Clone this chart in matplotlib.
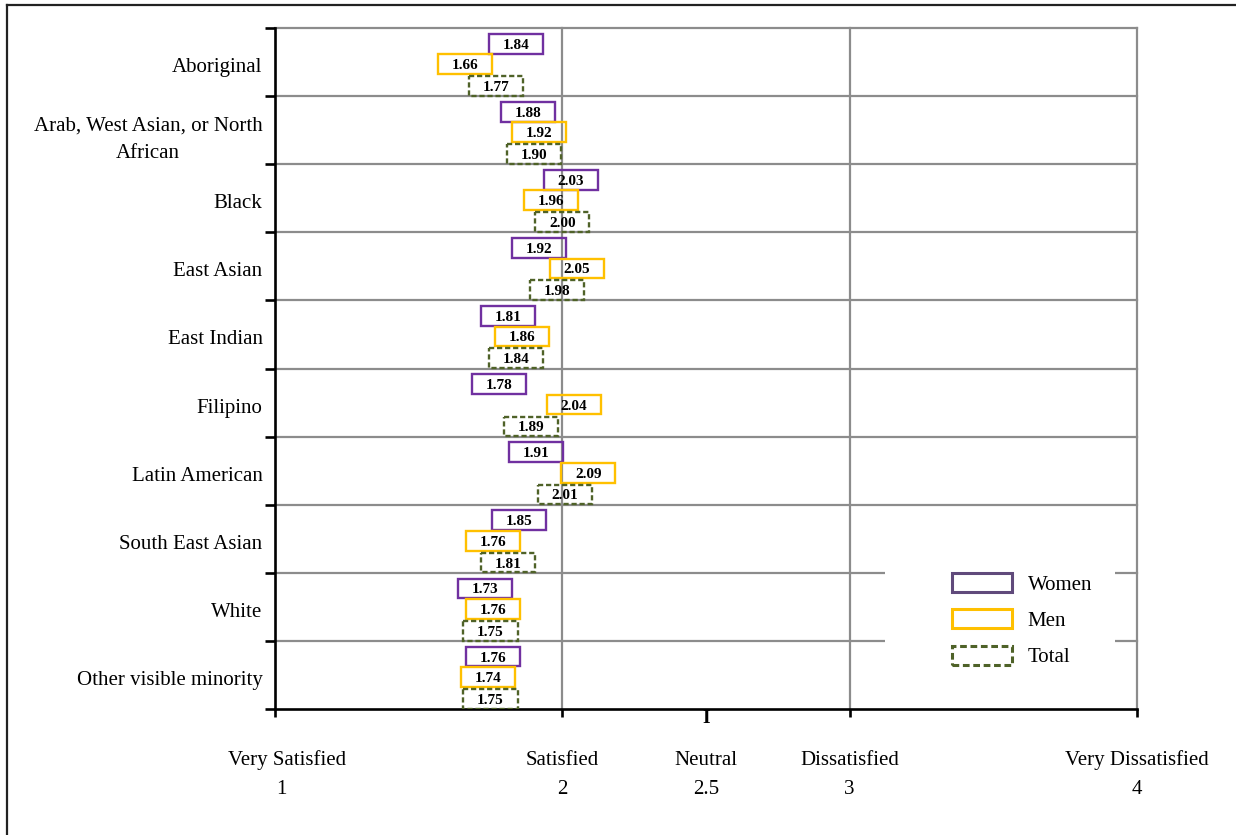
import matplotlib
matplotlib.use("Agg")
import matplotlib.pyplot as plt
import matplotlib.transforms as mtransforms
from matplotlib.patches import Rectangle, Patch
from matplotlib.lines import Line2D

# Mean satisfaction score by visible minority group (1 = very satisfied, 4 = very dissatisfied)
categories = [
    "Aboriginal",
    "Arab, West Asian, or North\nAfrican",
    "Black",
    "East Asian",
    "East Indian",
    "Filipino",
    "Latin American",
    "South East Asian",
    "White",
    "Other visible minority",
]
women = [1.84, 1.88, 2.03, 1.92, 1.81, 1.78, 1.91, 1.85, 1.73, 1.76]
men = [1.66, 1.92, 1.96, 2.05, 1.86, 2.04, 2.09, 1.76, 1.76, 1.74]
total = [1.77, 1.90, 2.00, 1.98, 1.84, 1.89, 2.01, 1.81, 1.75, 1.75]
series_names = ["Women", "Men", "Total"]

scale_values = [1, 2, 2.5, 3, 4]
scale_labels = ["Very Satisfied", "Satisfied", "Neutral", "Dissatisfied", "Very Dissatisfied"]

plt.rcParams["font.family"] = ["Liberation Serif", "DejaVu Serif"]

W, H = 1236, 835
fig = plt.figure(figsize=(W / 100, H / 100), dpi=100)
ax = fig.add_axes([275 / W, 126 / H, 862 / W, 681 / H])

n = len(categories)
ax.set_xlim(1, 4)
ax.set_ylim(n, 0)

GRID = "#8c8c8c"
for b in range(n):
    ax.axhline(b, color=GRID, lw=1.6, zorder=1, clip_on=False)
for x in (2, 3, 4):
    ax.axvline(x, color=GRID, lw=1.6, zorder=1, clip_on=False)

for side in ("top", "right"):
    ax.spines[side].set_visible(False)
for side in ("left", "bottom"):
    ax.spines[side].set_color("black")
    ax.spines[side].set_linewidth(1.9)
    ax.spines[side].set_zorder(3)

ax.set_xticks([1, 2, 3, 4])
ax.set_xticklabels([])
ax.tick_params(axis="x", direction="out", length=6, width=1.9, color="black")

ax.set_yticks([i + 0.5 for i in range(n)])
ax.set_yticklabels(categories, fontsize=15)
ax.set_yticks(range(n + 1), minor=True)
ax.tick_params(axis="y", which="major", length=0, pad=9)
ax.tick_params(axis="y", which="minor", direction="out", length=7, width=1.9, color="black")
shift_down = mtransforms.ScaledTranslation(0, -3 / 100, fig.dpi_scale_trans)
for lab in ax.get_yticklabels():
    lab.set_multialignment("center")
    lab.set_linespacing(1.6)
    lab.set_transform(lab.get_transform() + shift_down)

# Value boxes: one outlined label per group and series, centred on its score
BOX_W = 0.188
BOX_H = 0.29
styles = [
    (women, "#7030A0", "-", 0.23),
    (men, "#FFC000", "-", 0.53),
    (total, "#4F6228", (0, (2.2, 1.2)), 0.85),
]
for values, color, ls, off in styles:
    for i, v in enumerate(values):
        yc = i + off
        ax.add_patch(Rectangle((v - BOX_W / 2, yc - BOX_H / 2), BOX_W, BOX_H,
                               facecolor="none", edgecolor=color, lw=1.7,
                               linestyle=ls, zorder=4))
        ax.text(v, yc, f"{v:.2f}", ha="center", va="center_baseline",
                fontsize=11, fontweight="bold", color="black", zorder=5)

# Scale labels under the axis: descriptive word, then the score
for val, lab in zip(scale_values, scale_labels):
    dx_word = 12 if val == 1 else 0
    dx_num = 6 if val == 1 else 0
    ax.annotate(lab, xy=(val, 0), xycoords=("data", "axes fraction"),
                xytext=(dx_word, -49), textcoords="offset pixels",
                ha="center", va="center_baseline", fontsize=15,
                annotation_clip=False)
    ax.annotate(f"{val:g}", xy=(val, 0), xycoords=("data", "axes fraction"),
                xytext=(dx_num, -78), textcoords="offset pixels",
                ha="center", va="center_baseline", fontsize=15,
                annotation_clip=False)

# Small marker at the neutral point
ax.annotate("I", xy=(2.5, 0), xycoords=("data", "axes fraction"),
            xytext=(0, -1), textcoords="offset pixels",
            ha="center", va="top", fontsize=14, fontweight="bold",
            annotation_clip=False)

# Legend on a white panel that hides the gridlines behind it
ax.add_patch(Rectangle((0.708, 0.057), 0.267, 0.145, transform=ax.transAxes,
                       facecolor="white", edgecolor="none", zorder=2))
handles = [
    Patch(facecolor="white", edgecolor="#604A7B", lw=2.2),
    Patch(facecolor="white", edgecolor="#FFC000", lw=2.2),
    Patch(facecolor="white", edgecolor="#4F6228", lw=2.2, linestyle=(0, (2.2, 1.2))),
]
leg = ax.legend(handles, series_names, loc="upper left", bbox_to_anchor=(0.785, 0.200),
                frameon=False, fontsize=15, handlelength=2.9, handleheight=1.05,
                handletextpad=0.75, labelspacing=0.7, borderpad=0, borderaxespad=0)
leg.set_zorder(6)

# Outer frame
fig.add_artist(Line2D([7 / W, 7 / W], [0, 1 - 5 / H], transform=fig.transFigure,
                      color="#222222", lw=1.6))
fig.add_artist(Line2D([7 / W, 1], [1 - 5 / H, 1 - 5 / H], transform=fig.transFigure,
                      color="#222222", lw=1.6))

fig.savefig("out.png", dpi=100)
